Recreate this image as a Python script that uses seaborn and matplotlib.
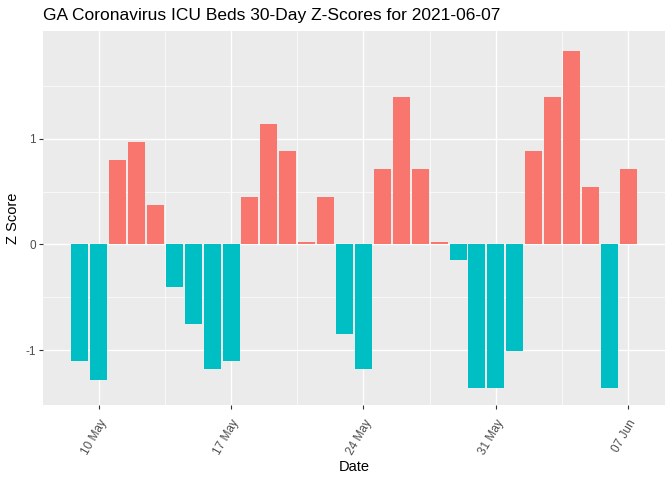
import matplotlib
matplotlib.use("Agg")
import matplotlib.pyplot as plt
import seaborn as sns
import pandas as pd
import numpy as np

dates = pd.date_range("2021-05-09", "2021-06-07", freq="D")
zscores = [-1.10, -1.28, 0.80, 0.97, 0.37, -0.40, -0.75, -1.18, -1.10, 0.45,
           1.14, 0.88, 0.02, 0.45, -0.85, -1.18, 0.71, 1.40, 0.71, 0.02,
           -0.15, -1.36, -1.36, -1.01, 0.88, 1.40, 1.83, 0.54, -1.36, 0.71]
tick_dates = ["10 May", "17 May", "24 May", "31 May", "07 Jun"]
tick_idx = [1, 8, 15, 22, 29]

df = pd.DataFrame({"Date": dates.strftime("%Y-%m-%d"), "Z": zscores})
df["pos"] = df["Z"] > 0

sns.set_theme(style="darkgrid")
plt.rcParams["font.family"] = ["Liberation Sans", "DejaVu Sans"]

fig = plt.figure(figsize=(6.72, 4.8), dpi=100)
ax = fig.add_axes([43/672, 75/480, (665-43)/672, (405-31)/480])
ax.set_facecolor("#EBEBEB")

sns.barplot(data=df, x="Date", y="Z", hue="pos", dodge=False, width=0.9,
            palette={True: "#F8766D", False: "#00BFC4"}, saturation=1,
            legend=False, ax=ax, zorder=3, linewidth=0, edgecolor="none")

ax.set_xlim(-1.945, 30.945)
ax.set_ylim(-1.52, 2.02)
ax.set_xticks(tick_idx)
ax.set_xticklabels(tick_dates, rotation=60, ha="right", va="top",
                   rotation_mode="anchor", fontsize=8.5, color="#4D4D4D")
ax.set_xticks([4.5, 11.5, 18.5, 25.5], minor=True)
ax.set_yticks([-1, 0, 1])
ax.set_yticklabels(["-1", "0", "1"], fontsize=8.5, color="#4D4D4D")
ax.set_yticks([-0.5, 0.5, 1.5], minor=True)

ax.grid(which="major", color="white", linewidth=1.0, zorder=0)
ax.grid(which="minor", color="white", linewidth=0.5, zorder=0)
ax.set_axisbelow(True)
for s in ax.spines.values():
    s.set_visible(False)
ax.tick_params(which="major", length=3, width=0.8, color="#333333", pad=2,
               bottom=True, left=True)
ax.tick_params(axis="x", which="major", pad=6)
ax.tick_params(which="minor", length=0)

ax.set_xlabel("Date", fontsize=10.5, color="black", labelpad=2)
ax.set_ylabel("Z Score", fontsize=10.5, color="black", labelpad=4)
ax.set_title("GA Coronavirus ICU Beds 30-Day Z-Scores for 2021-06-07",
             fontsize=12.5, loc="left", x=0, pad=8, color="black")

fig.savefig("out.png", dpi=100, facecolor="white")
